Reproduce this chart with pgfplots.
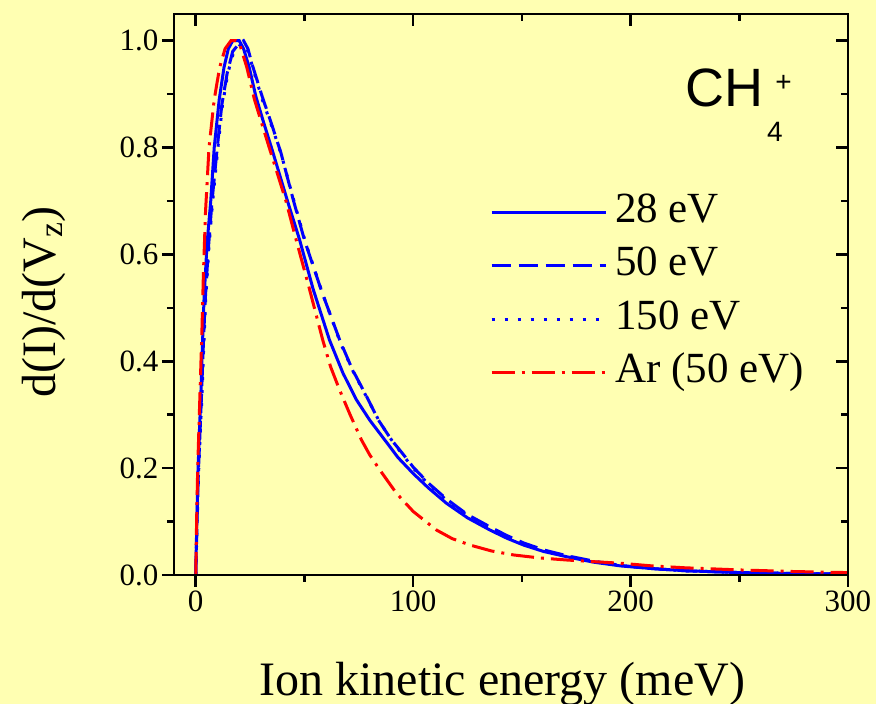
\documentclass[border=0pt]{standalone}
\usepackage{fontspec}
\setmainfont{Liberation Serif}
\newfontfamily\arial{Liberation Sans}
\usepackage{pgfplots}
\usepackage{pgfplotstable}
\pgfplotsset{compat=1.18}
\definecolor{bg}{RGB}{255,255,178}
\definecolor{cblue}{RGB}{0,0,255}
\definecolor{cred}{RGB}{255,0,0}

\pgfplotstableread{
x y
0 0
0.5 0.10
1 0.19
1.6 0.26
2.3 0.33
3 0.42
3.8 0.515
5.2 0.62
6.9 0.70
8.5 0.80
10.8 0.89
13 0.95
15 0.985
17 1.0
20 1.0
22 0.985
24.6 0.95
27.7 0.895
31 0.85
35.2 0.795
42.2 0.70
47.8 0.627
54 0.535
61.5 0.44
67.7 0.378
73.9 0.328
80 0.29
86.9 0.253
93 0.22
100 0.19
107 0.163
115.4 0.134
125 0.107
135.4 0.084
143 0.069
150.8 0.056
160 0.044
170.8 0.034
183 0.024
195.4 0.017
210 0.012
225 0.008
250 0.0045
275 0.0028
300 0.0015
}\tabA

\pgfplotstableread{
x y
0 0
0.6 0.10
1.2 0.19
1.9 0.26
2.6 0.33
3.4 0.42
4.3 0.51
5.8 0.61
7.5 0.70
9.9 0.80
12 0.88
14.5 0.94
17 0.98
20 0.995
22 1.0
24 0.985
26 0.955
30.6 0.895
34.8 0.845
39.2 0.79
45 0.70
50 0.627
58 0.53
66.2 0.44
72 0.385
78.5 0.335
84 0.29
90 0.253
95 0.228
100 0.202
107 0.172
115.4 0.142
125 0.113
135.4 0.090
143 0.074
150.8 0.060
160 0.047
170.8 0.036
183 0.026
195.4 0.018
210 0.012
225 0.008
250 0.0045
275 0.0028
300 0.0015
}\tabB

\pgfplotstableread{
x y
0 0
0.6 0.09
1.3 0.19
2.0 0.26
2.8 0.33
3.6 0.42
4.5 0.51
6.0 0.61
7.8 0.70
10.2 0.80
12.3 0.88
14.8 0.94
17.5 0.98
20 0.99
22.5 0.995
24.5 0.975
26.5 0.945
31 0.885
35 0.84
39.5 0.785
45.5 0.695
50.5 0.622
58.5 0.525
66.5 0.435
72.5 0.38
79 0.33
84.5 0.287
90.5 0.25
95 0.226
100 0.2
107 0.17
115.4 0.14
125 0.111
135.4 0.088
143 0.073
150.8 0.059
160 0.046
170.8 0.035
183 0.025
195.4 0.018
210 0.012
225 0.008
250 0.0045
275 0.0028
300 0.0015
}\tabC

\pgfplotstableread{
x y
0 0
0.4 0.10
0.9 0.20
1.5 0.28
2.1 0.36
2.8 0.45
3.5 0.56
4.5 0.68
6.1 0.80
8.5 0.89
11 0.95
13.5 0.985
16.2 1.0
18.5 1.0
20.5 0.99
23.5 0.95
27 0.89
30 0.85
33.8 0.80
41.5 0.70
46.2 0.627
52 0.54
58.4 0.44
62 0.39
66.2 0.346
71 0.30
76.2 0.253
80 0.225
84.6 0.197
92.3 0.153
100 0.119
110.8 0.084
118 0.068
126.2 0.056
136 0.045
146.2 0.0375
158 0.032
170.8 0.028
183 0.025
195.4 0.022
210 0.017
225 0.0135
250 0.0095
275 0.0065
300 0.0045
}\tabD

\begin{document}
\begin{tikzpicture}
\fill[bg] (-174pt,-129pt) rectangle (702pt,575pt);
\pgfplotsset{
  myframe/.style={
    at={(0pt,0pt)}, anchor=south west,
    scale only axis, width=674pt, height=561pt,
    xmin=-10, xmax=300, ymin=0, ymax=1.05,
    xtick={0,100,200,300}, ytick={0,0.2,0.4,0.6,0.8,1.0},
    minor x tick num=1, minor y tick num=1,
    major tick length=12pt, minor tick length=7pt,
    every tick/.style={black, line width=2.5pt},
    axis line style={black, line width=2.8pt},
  }
}
\begin{axis}[
  myframe,
  xtick pos=left, ytick pos=left,
  tick align=outside,
  /pgf/number format/assume math mode=true,
  tick label style={font=\fontsize{31}{31}\selectfont},
  yticklabel style={/pgf/number format/fixed, /pgf/number format/fixed zerofill, /pgf/number format/precision=1},
  xlabel={Ion kinetic energy (meV)},
  ylabel={d(I)/d(V\textsubscript{z})},
  label style={font=\fontsize{48}{48}\selectfont},
  xlabel style={at={(axis description cs:0.487,0)}, anchor=base, yshift=-120pt},
  ylabel style={at={(axis description cs:-0.193,0.487)}, anchor=center},
  legend style={at={(axis description cs:0.4688,0.6863)}, anchor=north west,
    draw=none, fill=none, inner sep=0pt, row sep=9.5pt, column sep=6pt,
    font=\fontsize{43}{43}\selectfont,
    nodes={inner sep=2pt, text height=30pt, text depth=10pt}},
  legend cell align=left,
  legend image code/.code={\draw[#1] (0pt,0pt) -- (114pt,0pt);},
]
\addplot[cblue, line width=3pt] table[x=x,y=y] {\tabA};
\addlegendentry{28 eV}
\addplot[cblue, line width=3pt, dash pattern=on 19pt off 8pt] table[x=x,y=y] {\tabB};
\addlegendentry{50 eV}
\addplot[cblue, line width=3pt, dash pattern=on 3pt off 10pt] table[x=x,y=y] {\tabC};
\addlegendentry{150 eV}
\addplot[cred, line width=3pt, dash pattern=on 23pt off 7pt on 3pt off 7pt] table[x=x,y=y] {\tabD};
\addlegendentry{Ar (50 eV)}
\end{axis}
\begin{axis}[
  myframe,
  xtick pos=right, ytick pos=right,
  tick align=inside,
  xticklabels={,,}, yticklabels={,,},
]
\end{axis}
\node[anchor=base west, inner sep=0pt, font=\arial\fontsize{54}{54}\selectfont] at (511pt,468pt) {CH};
\node[anchor=base west, inner sep=0pt, font=\arial\fontsize{28}{28}\selectfont] at (593pt,433pt) {4};
\node[anchor=center, inner sep=0pt, font=\arial\fontsize{28}{28}\selectfont] at (609.5pt,491.5pt) {+};
\pgfresetboundingbox
\path[use as bounding box] (-174pt,-129pt) rectangle (702pt,575pt);
\end{tikzpicture}
\end{document}
